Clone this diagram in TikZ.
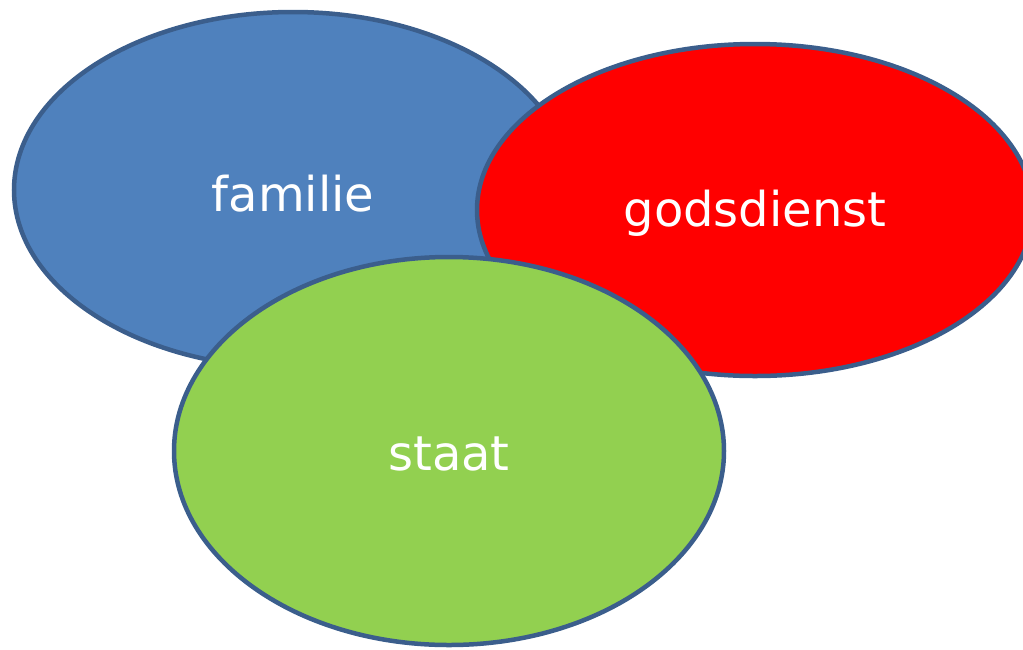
\documentclass[tikz,border=0pt]{standalone}
\usepackage{fontspec}
\setmainfont{DejaVu Sans}
\usetikzlibrary{shapes.geometric, positioning}
\definecolor{rand}{HTML}{3B5E8C}
\definecolor{blauw}{HTML}{4F81BD}
\definecolor{rood}{HTML}{FF0000}
\definecolor{groen}{HTML}{92D050}
\begin{document}
\begin{tikzpicture}[x=1pt, y=-1pt,
  e/.style={ellipse, draw=rand, line width=4.5pt, inner sep=0},
  t/.style={text=white, font=\fontsize{48}{52}\selectfont}]
        \useasboundingbox (0,0) rectangle (1023,649);
        \node[e, fill=blauw, minimum width=558, minimum height=356] (fam) at (293,190) {};
        \node[t] (famt) at (293,194) {familie};
        \node[e, fill=rood, minimum width=556, minimum height=332] (god) at (755,210) {};
        \node[t] (godt) at (755,213) {godsdienst};
        \node[e, fill=groen, minimum width=550, minimum height=388] (sta) at (449,451) {};
        \node[t] (stat) at (449,454) {staat};
      \end{tikzpicture}
\end{document}
